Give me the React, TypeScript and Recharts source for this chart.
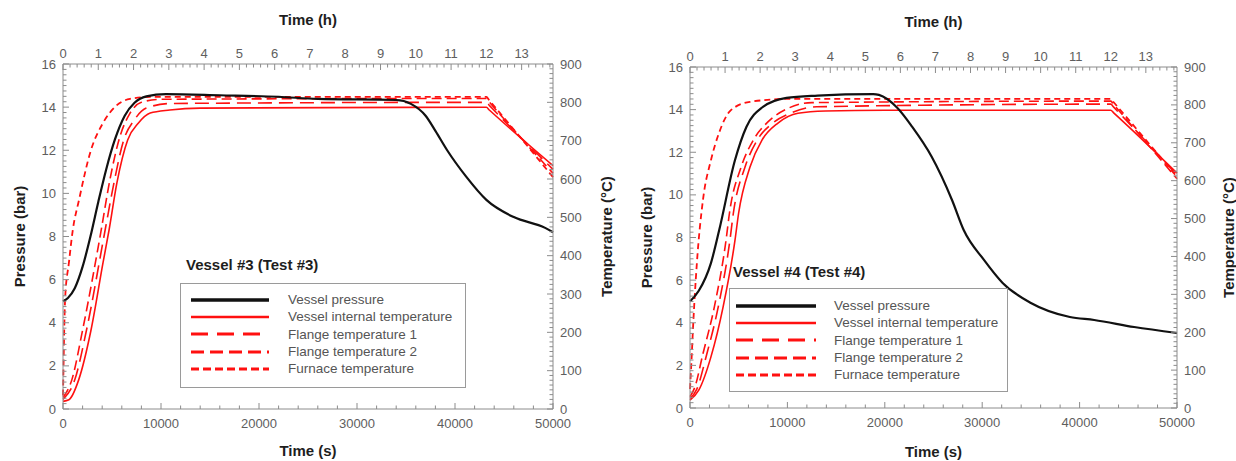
import React from "react";
import { LineChart, Line, XAxis, YAxis, Legend } from "recharts";

type Pt = [number, number];

// tick labels
const hourTicks = [0, 1, 2, 3, 4, 5, 6, 7, 8, 9, 10, 11, 12, 13];
const secTicks = [0, 10000, 20000, 30000, 40000, 50000];
const barTicks = [0, 2, 4, 6, 8, 10, 12, 14, 16];
const degTicks = [0, 100, 200, 300, 400, 500, 600, 700, 800, 900];

const seriesNames = [
  "Vessel pressure",
  "Vessel internal temperature",
  "Flange temperature 1",
  "Flange temperature 2",
  "Furnace temperature",
];

// Vessel #3 (Test #3)  [time s, value]
const v3Pressure: Pt[] = [[0, 5.0], [500, 5.15], [1200, 5.6], [2000, 6.6], [2800, 8.0], [3600, 9.6], [4400, 11.1], [5300, 12.5], [6300, 13.6], [7300, 14.2], [8500, 14.5], [10500, 14.6], [16000, 14.55], [22000, 14.48], [26000, 14.38], [34000, 14.33], [35500, 14.15], [37000, 13.6], [38000, 12.9], [39200, 12.0], [41100, 10.8], [43200, 9.7], [46000, 8.9], [49200, 8.4], [50000, 8.2]];
const v3Internal: Pt[] = [[0, 20], [600, 24], [1600, 76], [2860, 206], [4080, 381], [4700, 467], [5500, 590], [6600, 702], [7700, 746], [8900, 772], [10900, 780], [14000, 785], [43200, 787], [43500, 780], [50000, 635]];
const v3Flange1: Pt[] = [[0, 25], [1200, 76], [2400, 206], [4300, 467], [5200, 590], [6200, 702], [7300, 755], [8500, 785], [11000, 797], [43200, 800], [43500, 792], [50000, 625]];
const v3Flange2: Pt[] = [[0, 30], [900, 76], [2000, 206], [3900, 467], [4800, 600], [5800, 710], [6800, 770], [8000, 800], [10000, 808], [43200, 810], [43500, 801], [50000, 615]];
const v3Furnace: Pt[] = [[0, 35], [225, 292], [600, 381], [1000, 467], [1630, 545], [2860, 676], [4080, 746], [5300, 788], [6840, 809], [8900, 814], [43200, 814], [43500, 805], [50000, 605]];

// Vessel #4 (Test #4)
const v4Pressure: Pt[] = [[0, 5.0], [900, 5.5], [2150, 6.8], [3000, 8.35], [4600, 11.6], [5800, 13.2], [7400, 14.1], [9900, 14.55], [13100, 14.66], [18800, 14.73], [19400, 14.69], [21250, 14.1], [22800, 13.2], [24800, 11.8], [26900, 9.76], [28100, 8.35], [30200, 6.94], [32100, 5.87], [35000, 4.93], [39000, 4.27], [41500, 4.13], [45600, 3.8], [50000, 3.52]];
const v4Internal: Pt[] = [[0, 21], [900, 47], [2150, 135], [3400, 267], [4620, 443], [4990, 514], [6160, 636], [7390, 707], [9030, 752], [11080, 778], [13900, 784], [20000, 786], [43200, 786], [43500, 779], [50000, 620]];
const v4Flange1: Pt[] = [[0, 25], [700, 50], [1700, 140], [2900, 267], [4100, 443], [4450, 514], [5650, 636], [6900, 707], [8500, 752], [10500, 780], [13000, 795], [43200, 802], [43500, 794], [50000, 615]];
const v4Flange2: Pt[] = [[0, 30], [500, 55], [1300, 140], [2500, 267], [3700, 443], [4050, 514], [5250, 636], [6500, 707], [8000, 755], [10000, 790], [12500, 806], [43200, 810], [43500, 801], [50000, 605]];
const v4Furnace: Pt[] = [[0, 50], [200, 150], [300, 206], [700, 380], [1330, 549], [2150, 654], [2980, 726], [4200, 786], [6160, 808], [10270, 816], [43200, 816], [43500, 807], [50000, 610]];

const RED = "#ff1010";
const BLACK = "#111111";
const AX = "#8c8c8c";
const TXT = "#5e5e5e";
const FONT = "'Liberation Sans', Arial, Helvetica, sans-serif";

const styles = [
  { color: BLACK, width: 2.2, dash: undefined as string | undefined, legW: 3.5, legDash: undefined as string | undefined },
  { color: RED, width: 1.6, dash: undefined, legW: 2.5, legDash: undefined },
  { color: RED, width: 1.6, dash: "14 7", legW: 3, legDash: "17 9" },
  { color: RED, width: 1.6, dash: "10 5", legW: 3, legDash: "13 6" },
  { color: RED, width: 1.8, dash: "6 4", legW: 3, legDash: "8 4" },
];

function range(step: number, max: number) {
  const out: number[] = [];
  for (let i = 0; i * step <= max + 1e-9; i++) out.push(+(i * step).toFixed(4));
  return out;
}

const hourAll = range(720, 50000);
const secAll = range(2000, 50000);
const barAll = range(0.25, 16);
const degAll = range(12.5, 900);

type Side = "left" | "right" | "top" | "bottom";

function tickRenderer(side: Side, majors: number[], fmt: (v: number) => string) {
  return (props: any) => {
    const { x, y, payload } = props;
    const v = Number(payload.value);
    const major = majors.some((m) => Math.abs(m - v) < 1e-6);
    const len = major ? 6 : 3.5;
    const txt = { fill: TXT, fontSize: 13, fontFamily: FONT };
    let line: React.ReactNode = null;
    let label: React.ReactNode = null;
    if (side === "left") {
      line = <line x1={x} y1={y} x2={x + len} y2={y} stroke={AX} />;
      if (major) label = <text x={x - 7} y={y} dy="0.35em" textAnchor="end" {...txt}>{fmt(v)}</text>;
    } else if (side === "right") {
      line = <line x1={x} y1={y} x2={x - len} y2={y} stroke={AX} />;
      if (major) label = <text x={x + 7} y={y} dy="0.35em" textAnchor="start" {...txt}>{fmt(v)}</text>;
    } else if (side === "top") {
      line = <line x1={x} y1={y} x2={x} y2={y + len} stroke={AX} />;
      if (major) label = <text x={x} y={y - 6} textAnchor="middle" {...txt}>{fmt(v)}</text>;
    } else {
      line = <line x1={x} y1={y} x2={x} y2={y - len} stroke={AX} />;
      if (major) label = <text x={x} y={y + 19} textAnchor="middle" {...txt}>{fmt(v)}</text>;
    }
    return <g>{line}{label}</g>;
  };
}

type PanelProps = {
  left: number;
  width: number;
  leftW: number;
  rightW: number;
  topH: number;
  botH: number;
  pTitleX: number;
  tTitleX: number;
  hTitleY: number;
  sTitleY: number;
  title: string;
  leg: { left: number; top: number; boxW: number; boxH: number; gap: number; padTop: number; lineX: number; lineW: number; textGap: number; titleX: number };
  series: Pt[][];
};

function Panel(p: PanelProps) {
  const H = 461;
  const plotMidX = p.leftW + (p.width - p.leftW - p.rightW) / 2;
  const plotMidY = p.topH + (H - p.topH - p.botH) / 2;
  const titleStyle = { fill: "#1e1e1e", fontSize: 15, fontWeight: 700, fontFamily: FONT };
  const [pressure, ...temps] = p.series;

  return (
    <div style={{ position: "absolute", left: p.left, top: 0 }}>
      <LineChart width={p.width} height={H} margin={{ top: 0, right: 0, bottom: 0, left: 0 }}>
        <XAxis
          xAxisId="h"
          orientation="top"
          type="number"
          dataKey="t"
          domain={[0, 50000]}
          ticks={hourAll}
          interval={0}
          tickSize={0}
          tickMargin={0}
          tickLine={false}
          axisLine={{ stroke: AX }}
          height={p.topH}
          tick={tickRenderer("top", hourTicks.map((h) => h * 3600), (v) => String(Math.round(v / 3600)))}
          label={{
            content: () => (
              <text x={plotMidX} y={p.hTitleY} dy="0.35em" textAnchor="middle" {...titleStyle}>Time (h)</text>
            ),
          }}
        />
        <XAxis
          xAxisId="s"
          orientation="bottom"
          type="number"
          dataKey="t"
          domain={[0, 50000]}
          ticks={secAll}
          interval={0}
          tickSize={0}
          tickMargin={0}
          tickLine={false}
          axisLine={{ stroke: AX }}
          height={p.botH}
          tick={tickRenderer("bottom", secTicks, (v) => String(v))}
          label={{
            content: () => (
              <text x={plotMidX} y={p.sTitleY} dy="0.35em" textAnchor="middle" {...titleStyle}>Time (s)</text>
            ),
          }}
        />
        <YAxis
          yAxisId="p"
          orientation="left"
          type="number"
          domain={[0, 16]}
          ticks={barAll}
          interval={0}
          tickSize={0}
          tickMargin={0}
          tickLine={false}
          axisLine={{ stroke: AX }}
          width={p.leftW}
          tick={tickRenderer("left", barTicks, (v) => String(v))}
          label={{
            content: () => (
              <text
                x={p.pTitleX}
                y={plotMidY}
                dy="0.35em"
                textAnchor="middle"
                transform={`rotate(-90 ${p.pTitleX} ${plotMidY})`}
                {...titleStyle}
              >
                Pressure (bar)
              </text>
            ),
          }}
        />
        <YAxis
          yAxisId="T"
          orientation="right"
          type="number"
          domain={[0, 900]}
          ticks={degAll}
          interval={0}
          tickSize={0}
          tickMargin={0}
          tickLine={false}
          axisLine={{ stroke: AX }}
          width={p.rightW}
          tick={tickRenderer("right", degTicks, (v) => String(v))}
          label={{
            content: () => (
              <text
                x={p.tTitleX}
                y={plotMidY}
                dy="0.35em"
                textAnchor="middle"
                transform={`rotate(-90 ${p.tTitleX} ${plotMidY})`}
                {...titleStyle}
              >
                Temperature (°C)
              </text>
            ),
          }}
        />
        <Legend
          layout="horizontal"
          verticalAlign="middle"
          align="center"
          wrapperStyle={{ left: p.leg.left, top: p.leg.top, width: p.leg.boxW + 10 }}
          content={() => (
            <div style={{ fontFamily: FONT }}>
              <div
                style={{
                  height: 22,
                  lineHeight: "22px",
                  marginLeft: p.leg.titleX,
                  fontSize: 15,
                  fontWeight: 700,
                  color: "#1e1e1e",
                  whiteSpace: "nowrap",
                }}
              >
                {p.title}
              </div>
              <div
                style={{
                  marginTop: p.leg.gap,
                  width: p.leg.boxW,
                  height: p.leg.boxH,
                  boxSizing: "border-box",
                  border: "1px solid #9a9a9a",
                  paddingTop: p.leg.padTop,
                  background: "#fff",
                }}
              >
                {seriesNames.map((name, i) => (
                  <div key={name} style={{ display: "flex", alignItems: "center", height: 17.3 }}>
                    <svg width={p.leg.lineX + p.leg.lineW} height={8} style={{ flex: "none" }}>
                      <line
                        x1={p.leg.lineX}
                        x2={p.leg.lineX + p.leg.lineW}
                        y1={4}
                        y2={4}
                        stroke={styles[i].color}
                        strokeWidth={styles[i].legW}
                        strokeDasharray={styles[i].legDash}
                      />
                    </svg>
                    <span style={{ marginLeft: p.leg.textGap, fontSize: 13.5, color: "#555", whiteSpace: "nowrap" }}>
                      {name}
                    </span>
                  </div>
                ))}
              </div>
            </div>
          )}
        />
        {temps.map((pts, k) => {
          const s = styles[k + 1];
          return (
            <Line
              key={seriesNames[k + 1]}
              name={seriesNames[k + 1]}
              xAxisId="s"
              yAxisId="T"
              data={pts.map(([t, v]) => ({ t, v }))}
              dataKey="v"
              type="monotone"
              stroke={s.color}
              strokeWidth={s.width}
              strokeDasharray={s.dash}
              dot={false}
              activeDot={false}
              isAnimationActive={false}
            />
          );
        })}
        <Line
          name={seriesNames[0]}
          xAxisId="h"
          yAxisId="p"
          data={pressure.map(([t, v]) => ({ t, v }))}
          dataKey="v"
          type="monotone"
          stroke={styles[0].color}
          strokeWidth={styles[0].width}
          dot={false}
          activeDot={false}
          isAnimationActive={false}
        />
      </LineChart>
    </div>
  );
}

export default function App() {
  return (
    <div style={{ position: "absolute", left: 0, top: 0, width: 1236, height: 461, background: "#fff", overflow: "hidden" }}>
      <Panel
        left={0}
        width={620}
        leftW={63}
        rightW={67}
        topH={64}
        botH={52}
        pTitleX={20}
        tTitleX={607}
        hTitleY={20}
        sTitleY={451}
        title="Vessel #3 (Test #3)"
        leg={{ left: 180, top: 254, boxW: 286, boxH: 105, gap: 7, padTop: 7, lineX: 10, lineW: 78, textGap: 19, titleX: 6 }}
        series={[v3Pressure, v3Internal, v3Flange1, v3Flange2, v3Furnace]}
      />
      <Panel
        left={620}
        width={616}
        leftW={70}
        rightW={59}
        topH={67}
        botH={53}
        pTitleX={27}
        tTitleX={609}
        hTitleY={22}
        sTitleY={452}
        title="Vessel #4 (Test #4)"
        leg={{ left: 109, top: 261, boxW: 279, boxH: 104, gap: 5, padTop: 8, lineX: 6, lineW: 80, textGap: 18, titleX: 4 }}
        series={[v4Pressure, v4Internal, v4Flange1, v4Flange2, v4Furnace]}
      />
    </div>
  );
}
